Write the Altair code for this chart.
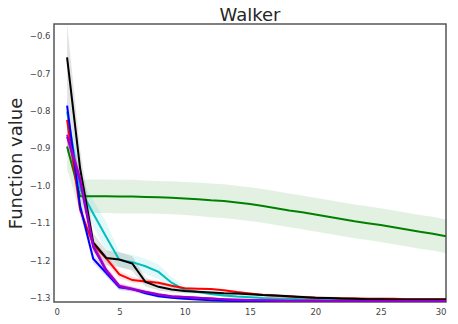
import altair as alt
import pandas as pd

steps = list(range(1, 31))

black = [-0.658, -0.955, -1.152, -1.194, -1.198, -1.209, -1.258, -1.271, -1.278, -1.282,
         -1.284, -1.286, -1.288, -1.289, -1.291, -1.293, -1.294, -1.296, -1.298, -1.300,
         -1.301, -1.302, -1.303, -1.304, -1.304, -1.305, -1.305, -1.305, -1.305, -1.305]
blue = [-0.787, -1.056, -1.196, -1.234, -1.272, -1.277, -1.288, -1.296, -1.300, -1.303,
        -1.305, -1.307, -1.308, -1.309, -1.310, -1.310, -1.310, -1.310, -1.310, -1.310,
        -1.310, -1.310, -1.310, -1.310, -1.310, -1.310, -1.310, -1.310, -1.310, -1.310]
cyan = [-0.803, -1.010, -1.075, -1.138, -1.199, -1.205, -1.216, -1.231, -1.260, -1.279,
        -1.285, -1.290, -1.294, -1.297, -1.299, -1.301, -1.302, -1.303, -1.304, -1.305,
        -1.305, -1.306, -1.306, -1.306, -1.307, -1.307, -1.307, -1.307, -1.307, -1.307]
red = [-0.825, -1.065, -1.158, -1.195, -1.238, -1.253, -1.257, -1.260, -1.268, -1.275,
       -1.276, -1.277, -1.280, -1.285, -1.289, -1.293, -1.295, -1.297, -1.299, -1.300,
       -1.301, -1.302, -1.302, -1.303, -1.303, -1.303, -1.304, -1.304, -1.304, -1.304]
magenta = [-0.865, -0.980, -1.160, -1.225, -1.268, -1.276, -1.284, -1.291, -1.296, -1.298,
           -1.300, -1.302, -1.304, -1.305, -1.306, -1.307, -1.307, -1.308, -1.308, -1.308,
           -1.308, -1.309, -1.309, -1.309, -1.309, -1.309, -1.309, -1.309, -1.309, -1.309]
purple = [-0.870, -0.990, -1.165, -1.229, -1.270, -1.278, -1.285, -1.292, -1.297, -1.298,
          -1.300, -1.302, -1.304, -1.306, -1.307, -1.307, -1.308, -1.308, -1.308, -1.308,
          -1.309, -1.309, -1.309, -1.309, -1.309, -1.309, -1.309, -1.309, -1.309, -1.309]
green = [-0.896, -1.029, -1.029, -1.029, -1.030, -1.030, -1.031, -1.032, -1.033, -1.035,
         -1.037, -1.040, -1.042, -1.046, -1.050, -1.055, -1.061, -1.067, -1.072, -1.078,
         -1.084, -1.090, -1.096, -1.101, -1.106, -1.112, -1.118, -1.124, -1.129, -1.136]

# half-widths of the shaded bands
black_sd = [0.09, 0.05, 0.025, 0.02, 0.02, 0.02, 0.012, 0.01, 0.008, 0.006] + [0.004] * 20
blue_sd = [0.04, 0.02, 0.012, 0.01, 0.008, 0.006, 0.005, 0.004, 0.003, 0.003] + [0.002] * 20
cyan_sd = [0.04, 0.03, 0.035, 0.04, 0.02, 0.02, 0.02, 0.02, 0.015, 0.01] + [0.004] * 20
red_sd = [0.04, 0.02, 0.012, 0.012, 0.01, 0.008, 0.006, 0.005, 0.004, 0.003] + [0.003] * 20
magenta_sd = [0.04, 0.02, 0.012, 0.01, 0.008, 0.006, 0.005, 0.004, 0.003, 0.003] + [0.002] * 20
purple_sd = [0.04, 0.02, 0.012, 0.01, 0.008, 0.006, 0.005, 0.004, 0.003, 0.003] + [0.002] * 20
green_sd = [0.06, 0.045, 0.045, 0.045, 0.045, 0.045, 0.044, 0.044, 0.044, 0.044] + [0.045] * 20

series_names = ["green", "cyan", "red", "black", "blue", "magenta", "purple"]
series_colors = ["#008000", "#00bfbf", "#ff0000", "#000000", "#0000ff", "#bf00bf", "#9400d3"]
series_vals = [green, cyan, red, black, blue, magenta, purple]
series_sd = [green_sd, cyan_sd, red_sd, black_sd, blue_sd, magenta_sd, purple_sd]

x_ticks = [0, 5, 10, 15, 20, 25, 30]
y_ticks = [-1.3, -1.2, -1.1, -1.0, -0.9, -0.8, -0.7, -0.6]

rows = []
for k, (name, vals, sds) in enumerate(zip(series_names, series_vals, series_sd)):
    for x, v, s in zip(steps, vals, sds):
        rows.append({"x": x, "y": v, "lo": v - s, "hi": v + s, "series": name, "order": k})
df = pd.DataFrame(rows)

font = "DejaVu Sans"
xs = alt.Scale(domain=[0, 30], nice=False)
ys = alt.Scale(domain=[-1.3115, -0.569], nice=False, zero=False)
cs = alt.Scale(domain=series_names, range=series_colors)
x_axis = alt.Axis(values=x_ticks, title=None, labelOverlap=False, labelPadding=5)
y_axis = alt.Axis(values=y_ticks, format=".1f", title="Function value", labelOverlap=False)

base = alt.Chart(df)

bands = base.mark_area(opacity=0.11, clip=True).encode(
    x=alt.X("x:Q", scale=xs, axis=x_axis),
    y=alt.Y("lo:Q", scale=ys, axis=y_axis),
    y2="hi:Q",
    color=alt.Color("series:N", scale=cs, legend=None),
    order="order:Q",
)

lines = base.mark_line(strokeWidth=2, clip=True).encode(
    x=alt.X("x:Q", scale=xs, axis=x_axis),
    y=alt.Y("y:Q", scale=ys, axis=y_axis),
    color=alt.Color("series:N", scale=cs, legend=None),
    order=alt.Order("x:Q"),
    detail="order:Q",
)

chart = alt.layer(bands, lines).properties(
    width=392,
    height=278,
    background="white",
    title=alt.Title("Walker", fontSize=18, font=font, fontWeight="normal", color="#262626",
                    anchor="middle", offset=4, baseline="alphabetic", dy=19),
    autosize=alt.AutoSizeParams(type="none"),
    padding={"left": 46, "top": 16, "right": 4, "bottom": 14},
).configure_view(
    stroke="#555555", strokeWidth=1.5
).configure_axis(
    grid=False, ticks=False, domain=False, labelOverlap=False,
    labelFont=font, labelFontSize=8.5, labelColor="#444444", labelPadding=4,
    titleFont=font, titleFontSize=18, titleFontWeight="normal", titleColor="#262626",
    titlePadding=4,
)

chart.save("out.html", embed_options={"renderer": "svg", "actions": False})
